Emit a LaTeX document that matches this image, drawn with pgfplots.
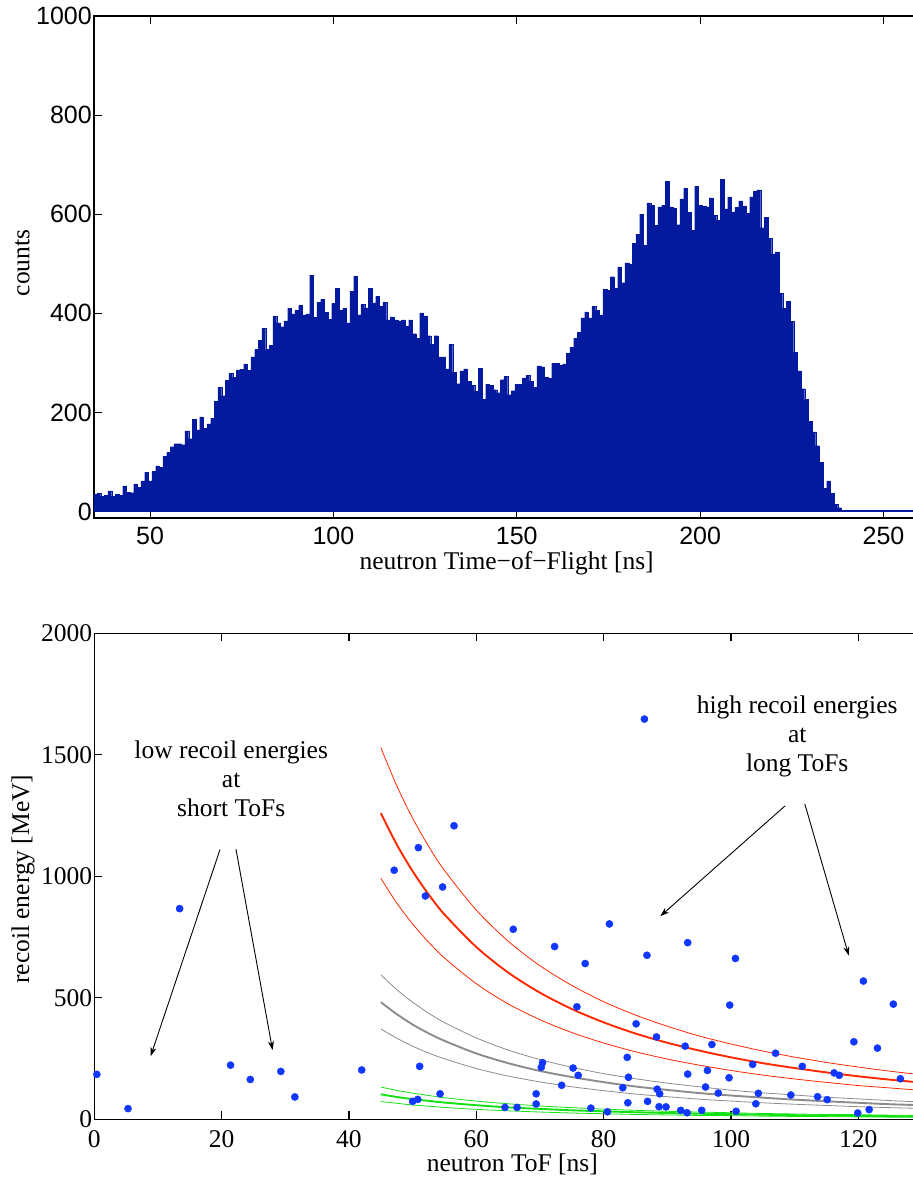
\documentclass[border=0pt]{standalone}
\usepackage{fontspec}
\setmainfont{Liberation Serif}
\newfontfamily\helv{Liberation Sans}
\usepackage{pgfplots}
\usepackage{pgfplotstable}
\pgfplotsset{compat=1.18}
\usetikzlibrary{arrows.meta}

\definecolor{histblue}{RGB}{4,26,158}
\definecolor{dotblue}{RGB}{15,55,255}
\definecolor{fitred}{RGB}{255,40,0}
\definecolor{fitgray}{RGB}{140,140,140}
\definecolor{fitgreen}{RGB}{20,225,20}

% neutron time-of-flight histogram, 1 ns bins (bin centre, counts)
\pgfplotstableread{
t c
35 35
36 37
37 31
38 33
39 42
40 31
41 35
42 33
43 52
44 39
45 38
46 56
47 49
48 62
49 79
50 62
51 81
52 92
53 89
54 111
55 119
56 131
57 137
58 137
59 135
60 163
61 147
62 186
63 165
64 191
65 168
66 177
67 188
68 223
69 251
70 234
71 265
72 279
73 271
74 286
75 287
76 298
77 285
78 312
79 327
80 345
81 370
82 327
83 335
84 394
85 381
86 373
87 385
88 410
89 399
90 406
91 416
92 397
93 399
94 477
95 392
96 422
97 428
98 402
99 388
100 420
101 450
102 406
103 410
104 381
105 444
106 475
107 397
108 418
109 411
110 451
111 421
112 434
113 414
114 422
115 387
116 393
117 387
118 385
119 387
120 374
121 387
122 359
123 350
124 401
125 395
126 355
127 338
128 355
129 312
130 312
131 288
132 337
133 281
134 258
135 284
136 288
137 263
138 255
139 243
140 289
141 227
142 257
143 255
144 246
145 240
146 266
147 273
148 236
149 244
150 257
151 257
152 270
153 275
154 263
155 251
156 294
157 292
158 271
159 269
160 299
161 299
162 296
163 298
164 319
165 332
166 350
167 362
168 391
169 403
170 391
171 414
172 406
173 397
174 448
175 447
176 474
177 451
178 494
179 462
180 502
181 499
182 541
183 559
184 600
185 537
186 623
187 618
188 578
189 615
190 618
191 667
192 615
193 612
194 579
195 631
196 652
197 604
198 568
199 656
200 618
201 616
202 615
203 633
204 598
205 588
206 670
207 611
208 635
209 605
210 614
211 627
212 617
213 602
214 635
215 647
216 649
217 573
218 594
219 551
220 520
221 524
222 440
223 410
224 424
225 384
226 321
227 284
228 248
229 226
230 182
231 161
232 133
233 99
234 47
235 62
236 37
237 15
238 8
239 3
240 2
241 2
242 2
243 2
244 2
245 2
246 2
247 2
248 2
249 2
250 2
251 2
252 2
253 2
254 2
255 2
256 2
257 2
258 2
259 2
260 2
261 2
262 2
}\tofhist

% recoil events (ToF in ns, recoil energy in MeV)
\pgfplotstableread{
t E
0.4 185
5.3 44
13.4 867
21.4 223
24.5 164
29.3 197
31.5 92
42.0 203
47.1 1025
50.0 74
50.8 82
50.9 1118
51.1 218
52.0 919
54.3 105
54.7 956
56.5 1208
64.5 49
65.8 782
66.4 49
69.4 105
69.4 63
70.2 214
70.4 233
72.3 711
73.4 140
75.2 211
75.8 463
76.0 181
77.1 641
78.0 46
80.6 31
80.9 804
83.0 130
83.7 255
83.8 68
83.9 173
85.1 393
86.4 1647
86.8 675
86.9 74
88.3 339
88.4 124
88.7 52
88.8 105
89.8 51
92.1 37
92.8 301
93.1 27
93.2 186
93.2 727
95.4 37
96.0 133
96.3 201
97.0 308
98.0 108
99.7 171
99.8 470
100.7 662
100.8 33
103.4 226
103.9 64
104.3 107
107.0 272
109.4 100
111.2 218
113.6 93
115.1 81
116.2 191
117.0 181
119.3 319
119.9 26
120.8 569
121.7 40
123.0 293
125.5 474
126.6 167
}\recoils

\tikzset{bigserif/.style={font=\fontsize{25.5}{29}\selectfont}}

\pgfplotsset{
  panel/.style={
    scale only axis, anchor=south west,
    tick align=inside, major tick length=8pt,
    axis line style={line width=1.4pt},
    tick style={black, line width=1.1pt},
    scaled ticks=false,
    /pgf/number format/1000 sep={},
    /pgf/number format/assume math mode=true,
  },
}

\begin{document}
\begin{tikzpicture}
\useasboundingbox (0,0) rectangle (913pt,-1179pt);

% ---- upper panel: ToF spectrum ----
\begin{axis}[panel,
  at={(94pt,-518pt)}, width=833.5pt, height=502pt,
  xmin=34.7, xmax=262, ymin=-13, ymax=1000,
  xtick={50,100,...,250}, ytick={0,200,...,1000},
  ticklabel style={font=\helv\fontsize{25}{30}\selectfont},
  xticklabel style={inner sep=0pt, yshift=-9pt},
  yticklabel style={inner sep=2pt},
  xlabel={neutron Time−of−Flight [ns]},
  ylabel={counts},
  label style={bigserif},
  x label style={at={(axis description cs:0.495,-0.0895)}, anchor=center},
  y label style={at={(axis description cs:-0.086,0.508)}, anchor=center},
]
\addplot[ybar, bar width=1, fill=histblue, draw=histblue, line width=0.2pt]
  table[x=t, y=c] {\tofhist};
\end{axis}

% ---- lower panel: recoil energy vs ToF ----
\begin{axis}[panel,
  at={(94.3pt,-1119.3pt)}, width=827.7pt, height=486pt,
  xmin=0, xmax=130, ymin=0, ymax=2000,
  xtick={0,20,...,120}, ytick={0,500,...,2000},
  ticklabel style={bigserif},
  xticklabel style={inner sep=0pt, yshift=-11pt},
  yticklabel style={inner sep=2pt},
  xlabel={neutron ToF [ns]},
  ylabel={recoil energy [MeV]},
  label style={bigserif},
  x label style={at={(axis description cs:0.505,-0.0935)}, anchor=center},
  y label style={at={(axis description cs:-0.0861,0.494)}, anchor=center},
]
% red band
\addplot[fitred, line width=0.8pt, smooth] coordinates {
(45,1530)(47.5,1373)(50,1239)(52.5,1124)(55,1024)(60,861)(65,733)(70,632)(75,551)(80,484)(85,429)(90,383)(95,343)(100,310)(105,281)(110,256)(115,234)(120,215)(125,198)(130,183)};
\addplot[fitred, line width=1.9pt, smooth] coordinates {
(45,1260)(47.5,1131)(50,1021)(52.5,926)(55,843)(60,709)(65,604)(70,521)(75,454)(80,399)(85,353)(90,315)(95,283)(100,255)(105,231)(110,211)(115,193)(120,177)(125,163)(130,151)};
\addplot[fitred, line width=0.8pt, smooth] coordinates {
(45,992)(47.5,890)(50,804)(52.5,729)(55,664)(60,558)(65,475)(70,410)(75,357)(80,314)(85,278)(90,248)(95,223)(100,201)(105,182)(110,166)(115,152)(120,139)(125,129)(130,119)};
% grey band
\addplot[fitgray, line width=0.8pt, smooth] coordinates {
(45,595)(47.5,534)(50,482)(52.5,437)(55,398)(60,335)(65,285)(70,246)(75,214)(80,188)(85,167)(90,149)(95,134)(100,120)(105,109)(110,100)(115,91)(120,84)(125,77)(130,71)};
\addplot[fitgray, line width=1.9pt, smooth] coordinates {
(45,482)(47.5,433)(50,390)(52.5,354)(55,323)(60,271)(65,231)(70,199)(75,174)(80,153)(85,135)(90,121)(95,108)(100,98)(105,89)(110,81)(115,74)(120,68)(125,62)(130,58)};
\addplot[fitgray, line width=0.8pt, smooth] coordinates {
(45,372)(47.5,334)(50,301)(52.5,273)(55,249)(60,209)(65,178)(70,154)(75,134)(80,118)(85,104)(90,93)(95,83)(100,75)(105,68)(110,62)(115,57)(120,52)(125,48)(130,45)};
% green band
\addplot[fitgreen, line width=0.8pt, smooth] coordinates {
(45,133)(47.5,119)(50,108)(52.5,98)(55,89)(60,75)(65,64)(70,55)(75,48)(80,42)(85,37)(90,33)(95,30)(100,27)(105,24)(110,22)(115,20)(120,19)(125,17)(130,16)};
\addplot[fitgreen, line width=1.9pt, smooth] coordinates {
(45,103)(47.5,92)(50,83)(52.5,76)(55,69)(60,58)(65,49)(70,43)(75,37)(80,33)(85,29)(90,26)(95,23)(100,21)(105,19)(110,17)(115,16)(120,14)(125,13)(130,12)};
\addplot[fitgreen, line width=0.8pt, smooth] coordinates {
(45,73)(47.5,66)(50,59)(52.5,54)(55,49)(60,41)(65,35)(70,30)(75,26)(80,23)(85,20)(90,18)(95,16)(100,15)(105,13)(110,12)(115,11)(120,10)(125,9)(130,9)};
% events
\addplot[only marks, mark=*, mark size=3.6pt, color=dotblue]
  table[x=t, y=E] {\recoils};

% annotations
\node[bigserif, align=center, anchor=north, inner sep=0pt]
  at (axis cs:21.5,1559) {low recoil energies\\at\\short ToFs};
\node[bigserif, align=center, anchor=north, inner sep=0pt]
  at (axis cs:110.4,1743) {high recoil energies\\at\\long ToFs};
\draw[-{Stealth[length=9pt,width=6pt]}, line width=0.9pt]
  (axis cs:19.74,1110) -- (axis cs:8.85,260);
\draw[-{Stealth[length=9pt,width=6pt]}, line width=0.9pt]
  (axis cs:22.25,1112) -- (axis cs:28.0,285);
\draw[-{Stealth[length=9pt,width=6pt]}, line width=0.9pt]
  (axis cs:108.5,1290) -- (axis cs:88.9,836);
\draw[-{Stealth[length=9pt,width=6pt]}, line width=0.9pt]
  (axis cs:111.6,1297) -- (axis cs:118.5,674);
\end{axis}
\end{tikzpicture}
\end{document}
